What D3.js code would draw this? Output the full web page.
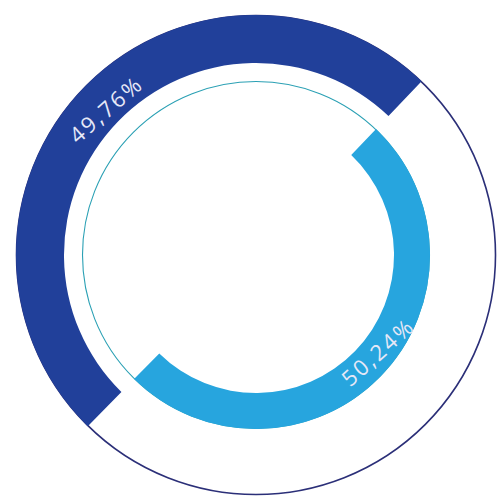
<!DOCTYPE html>
<html>
<head>
<meta charset="utf-8">
<script src="https://cdn.jsdelivr.net/npm/d3@7"></script>
<style>
html,body{margin:0;padding:0;background:#fff;}
svg{display:block;}
</style>
</head>
<body>
<svg id="chart" width="498" height="496"></svg>
<script>
const categories = ["A", "B"];
const values = [49.76, 50.24];
const labels = ["49,76%", "50,24%"];
const colors = ["#21409a", "#27a5de"];

const svg = d3.select("#chart");
const cx = 256, cy = 255;
const g = svg.append("g").attr("transform", `translate(${cx},${cy})`);

const Rout = 240;
const rings = [
  {outer: 240, inner: 192, labelR: 210, labelAngle: -45.8, rot: -41},
  {outer: 174, inner: 138, labelR: 155, labelAngle: 128.4, rot: -42}
];

const pie = d3.pie().sort(null).value(d => d.v)
  .startAngle(-135.5 * Math.PI / 180)
  .endAngle(224.5 * Math.PI / 180);
const data = pie(categories.map((c, i) => ({c, v: values[i], i})));

// thin outer circle
g.append("circle").attr("r", Rout - 0.5)
  .attr("fill", "none").attr("stroke", "#2b2f78").attr("stroke-width", 1.6);
// thin inner circle
g.append("circle").attr("r", rings[1].outer - 0.5)
  .attr("fill", "none").attr("stroke", "#2aa0b4").attr("stroke-width", 1.1);

g.selectAll("path.slice").data(data).join("path")
  .attr("class", "slice")
  .attr("d", d => d3.arc().innerRadius(rings[d.data.i].inner).outerRadius(rings[d.data.i].outer)(d))
  .attr("fill", d => colors[d.data.i]);

g.selectAll("text.lbl").data(data).join("text")
  .attr("class", "lbl")
  .attr("transform", d => {
    const r = rings[d.data.i];
    const a = r.labelAngle * Math.PI / 180;
    const x = r.labelR * Math.sin(a), y = -r.labelR * Math.cos(a);
    return `translate(${x},${y}) rotate(${r.rot})`;
  })
  .attr("text-anchor", "middle")
  .attr("dominant-baseline", "central")
  .attr("font-family", "'Open Sans', sans-serif")
  .attr("font-weight", 400)
  .attr("font-size", 22)
  .attr("letter-spacing", 2.5)
  .attr("fill", "#e6e8f7")
  .text(d => labels[d.data.i]);
</script>
</body>
</html>
